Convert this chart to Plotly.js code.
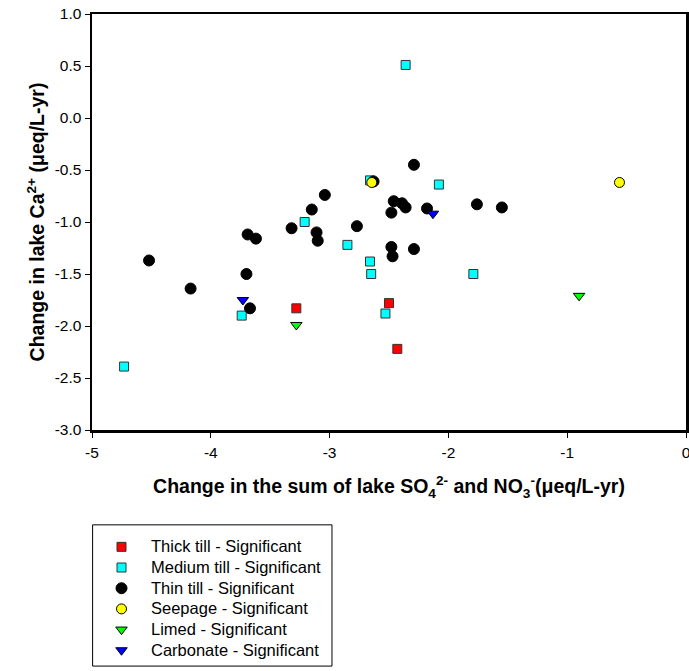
<!DOCTYPE html>
<html>
<head>
<meta charset="utf-8">
<script src="https://cdn.plot.ly/plotly-3.0.1.min.js"></script>
<style>html,body{margin:0;padding:0;background:#fff;}#chart{width:689px;height:671px;}</style>
</head>
<body>
<div id="chart"></div>
<script>
// Data
const seriesNames = ["Thick till - Significant","Medium till - Significant","Thin till - Significant","Seepage - Significant","Limed - Significant","Carbonate - Significant"];

const thickX = [-3.28, -2.50, -2.43];
const thickY = [-1.83, -1.78, -2.22];

const mediumX = [-2.36, -2.66, -2.08, -3.21, -2.85, -2.66, -2.65, -1.79, -3.74, -2.53, -4.73];
const mediumY = [0.51, -0.60, -0.64, -1.00, -1.22, -1.38, -1.50, -1.50, -1.90, -1.88, -2.39];

const thinX = [-4.52, -4.17, -3.70, -3.67, -3.69, -3.62, -3.32, -3.15, -3.11, -3.10, -3.04, -2.77, -2.63, -2.46, -2.39, -2.36, -2.48, -2.29, -2.18, -2.48, -2.47, -2.29, -1.76, -1.55];
const thinY = [-1.37, -1.64, -1.50, -1.83, -1.12, -1.16, -1.06, -0.88, -1.10, -1.18, -0.74, -1.04, -0.61, -0.80, -0.82, -0.86, -0.91, -0.45, -0.87, -1.24, -1.33, -1.26, -0.83, -0.86];

const seepX = [-2.645, -0.56];
const seepY = [-0.62, -0.62];

const limedX = [-3.28, -0.90];
const limedY = [-1.99, -1.71];

const carbX = [-3.73, -2.13];
const carbY = [-1.75, -0.92];

const xTicks = [-5, -4, -3, -2, -1, 0];
const yTicks = [-3.0, -2.5, -2.0, -1.5, -1.0, -0.5, 0.0, 0.5, 1.0];

const legName = n => '<span style="font-size:16.5px">' + n + '</span>';

const sq = {symbol: 'square', size: 9, line: {color: '#333333', width: 1}};
const traces = [
  {x: thickX, y: thickY, name: legName(seriesNames[0]), type: 'scatter', mode: 'markers',
   marker: Object.assign({}, sq, {color: '#ff0000'})},
  {x: mediumX, y: mediumY, name: legName(seriesNames[1]), type: 'scatter', mode: 'markers',
   marker: Object.assign({}, sq, {color: '#00ffff'})},
  {x: thinX, y: thinY, name: legName(seriesNames[2]), type: 'scatter', mode: 'markers',
   marker: {symbol: 'circle', size: 11, color: '#000000', line: {color: '#000000', width: 1}}},
  {x: seepX, y: seepY, name: legName(seriesNames[3]), type: 'scatter', mode: 'markers',
   marker: {symbol: 'circle', size: 10, color: '#ffff00', line: {color: '#000000', width: 1}}},
  {x: limedX, y: limedY, name: legName(seriesNames[4]), type: 'scatter', mode: 'markers',
   marker: {symbol: 'triangle-down', size: 10, color: '#00ff00', line: {color: '#000000', width: 1}}},
  {x: carbX, y: carbY, name: legName(seriesNames[5]), type: 'scatter', mode: 'markers',
   marker: {symbol: 'triangle-down', size: 10, color: '#0000ff', line: {color: '#000000', width: 1}}}
];

const fontFam = '"Liberation Sans", Arial, sans-serif';
const layout = {
  width: 689, height: 671,
  margin: {l: 92, r: 3, t: 14, b: 241},
  paper_bgcolor: '#ffffff', plot_bgcolor: '#ffffff',
  font: {family: fontFam, size: 13, color: '#000'},
  showlegend: true,
  xaxis: {
    range: [-5, 0], tickmode: 'array', tickvals: xTicks, ticktext: xTicks.map(String),
    showgrid: false, zeroline: false, showline: true, linecolor: '#000', linewidth: 2.5, mirror: true,
    ticks: 'outside', ticklen: 5, tickwidth: 1, tickcolor: '#000', ticklabelstandoff: 2,
    ticklabeloverflow: 'allow',
    tickfont: {family: fontFam, size: 15.5},
    title: {text: 'Change in the sum of lake SO<sub>4</sub><sup>2-</sup> and NO<sub>3</sub><sup>-</sup>(μeq/L-yr)',
            font: {family: fontFam, size: 19.5, weight: 'bold'}, standoff: 20},
    automargin: false
  },
  yaxis: {
    range: [-3, 1], tickmode: 'array', tickvals: yTicks, ticktext: yTicks.map(v => v.toFixed(1)),
    showgrid: false, zeroline: false, showline: true, linecolor: '#000', linewidth: 2.5, mirror: true,
    ticks: 'outside', ticklen: 5, tickwidth: 1, tickcolor: '#000',
    ticklabeloverflow: 'allow',
    tickfont: {family: fontFam, size: 15.5},
    title: {text: 'Change in lake Ca<sup>2+</sup> (μeq/L-yr)',
            font: {family: fontFam, size: 19.5, weight: 'bold'}, standoff: 5},
    automargin: false
  },
  legend: {
    x: 0.0, xanchor: 'left', y: -0.244, yanchor: 'top',
    bgcolor: 'rgba(0,0,0,0)', borderwidth: 0,
    font: {family: fontFam, size: 13.6},
    itemwidth: 49, tracegroupgap: 0
  },
  shapes: [
    {type: 'rect', xref: 'paper', yref: 'paper', x0: 0.001, x1: 0.404, y0: -0.5675, y1: -0.228,
     line: {color: '#000', width: 1}, fillcolor: 'rgba(0,0,0,0)'}
  ]
};

Plotly.newPlot('chart', traces, layout, {displayModeBar: false, staticPlot: true});
</script>
</body>
</html>
